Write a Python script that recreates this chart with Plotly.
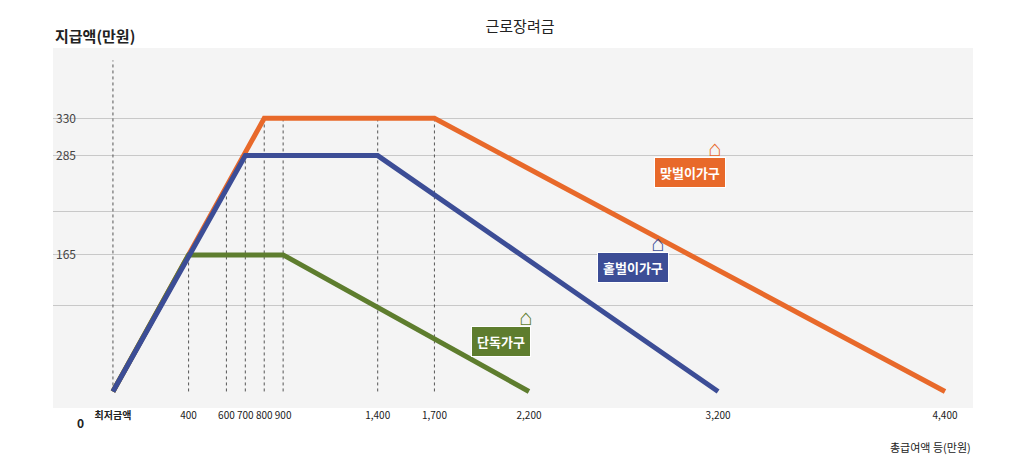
import plotly.graph_objects as go

FONT = "Noto Sans CJK KR"
title = "근로장려금"
single_x = [0, 400, 900, 2200]
single_y = [0, 165, 165, 0]
oneearner_x = [0, 700, 1400, 3200]
oneearner_y = [0, 285, 285, 0]
dual_x = [0, 800, 1700, 4400]
dual_y = [0, 330, 330, 0]
x_ticks = [0, 400, 600, 700, 800, 900, 1400, 1700, 2200, 3200, 4400]
x_ticktext = ["<b>최저금액</b>", "400", "600", "700", "800", "900", "1,400", "1,700", "2,200", "3,200", "4,400"]
y_ticks = [104, 165, 218, 285, 330]
y_ticktext = ["", "165", "", "285", "330"]
labels = ["맞벌이가구", "홑벌이가구", "단독가구"]
label_x = [3050, 2750, 2050]
label_y = [265, 150, 60]
colors = ["#e8692a", "#3c4d96", "#5e7d2e"]

fig = go.Figure()

def val_at(xs, ys, x):
    for i in range(len(xs) - 1):
        if xs[i] <= x <= xs[i + 1]:
            t = (x - xs[i]) / (xs[i + 1] - xs[i])
            return ys[i] + t * (ys[i + 1] - ys[i])
    return 0

curves = [(dual_x, dual_y), (oneearner_x, oneearner_y), (single_x, single_y)]
for xv in x_ticks:
    if xv > 1700:
        continue
    if xv == 0:
        top = 400
    elif xv == 600:
        top = val_at(oneearner_x, oneearner_y, xv)
    else:
        top = max(val_at(xs, ys, xv) for xs, ys in curves)
    fig.add_trace(go.Scatter(x=[xv, xv], y=[0, top], mode="lines",
                             line=dict(color="#555", width=1, dash="dot"),
                             hoverinfo="skip", showlegend=False))

for (xs, ys), c in zip([curves[0], curves[2], curves[1]], [colors[0], colors[2], colors[1]]):
    fig.add_trace(go.Scatter(x=xs, y=ys, mode="lines", line=dict(color=c, width=5),
                             showlegend=False))

for t, x, y, c in zip(labels, label_x, label_y, colors):
    fig.add_annotation(x=x, y=y, text="<b>" + t + "</b>", showarrow=False,
                       font=dict(family=FONT, size=13, color="white"),
                       bgcolor=c, borderpad=5, bordercolor="white", borderwidth=1)
    fig.add_annotation(x=x + 130, y=y + 32, text="⌂", showarrow=False,
                       font=dict(size=22, color=c))

fig.add_annotation(xref="paper", yref="paper", x=0.0, y=1.0, yanchor="bottom", xanchor="left",
                   text="<b>지급액(만원)</b>", showarrow=False, font=dict(family=FONT, size=15, color="#222"))
fig.add_annotation(xref="paper", yref="paper", x=1.0, y=-0.08, yanchor="top", xanchor="right",
                   text="총급여액 등(만원)", showarrow=False, font=dict(family=FONT, size=11, color="#222"))
fig.add_annotation(xref="x", yref="paper", x=-170, y=-0.01, yanchor="top",
                   text="<b>0</b>", showarrow=False, font=dict(family=FONT, size=12, color="#222"))

fig.update_layout(
    width=1024, height=459,
    title=dict(text=title, x=0.5, y=0.97, font=dict(family=FONT, size=15, color="#222")),
    margin=dict(l=45, r=59, t=40, b=59),
    paper_bgcolor="white", plot_bgcolor="#f4f4f4",
    font=dict(family=FONT, size=12, color="#222"),
    xaxis=dict(range=[-317, 4548], tickvals=x_ticks, ticktext=x_ticktext, showgrid=False,
               zeroline=False, ticks="", tickangle=0, tickfont=dict(size=10)),
    yaxis=dict(range=[-20, 415], tickvals=y_ticks, ticktext=y_ticktext, showgrid=True,
               gridcolor="#c8c8c8", zeroline=False, ticklabelposition="inside", ticks=""),
)
fig.write_html("out.html")
